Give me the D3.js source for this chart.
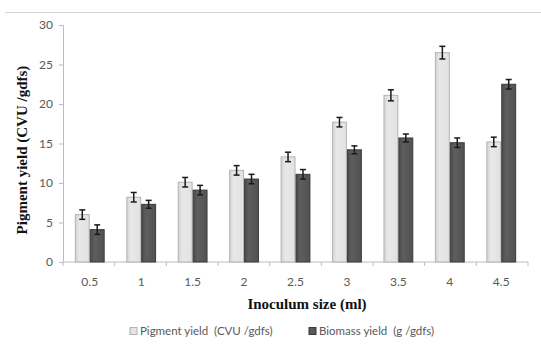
<!DOCTYPE html>
<html>
<head>
    <meta charset="utf-8" />
    <title>Inoculum size</title>
    <script src="https://cdn.jsdelivr.net/npm/d3@7"></script>
    <style>
        body { margin: 0; background: #fff; }
        .tick text { fill: #595959; font-family: Lato, "Open Sans", sans-serif; font-size: 12px; }
    </style>
</head>
<body>
<script>
    var categories = ["0.5", "1", "1.5", "2", "2.5", "3", "3.5", "4", "4.5"];
    var pigment = [6.0, 8.2, 10.1, 11.6, 13.3, 17.7, 21.1, 26.5, 15.2];
    var pigmentErr = [0.6, 0.6, 0.6, 0.6, 0.6, 0.6, 0.7, 0.8, 0.6];
    var biomass = [4.1, 7.3, 9.1, 10.5, 11.1, 14.2, 15.7, 15.1, 22.5];
    var biomassErr = [0.6, 0.5, 0.6, 0.6, 0.6, 0.5, 0.5, 0.6, 0.6];
    var yTicks = [0, 5, 10, 15, 20, 25, 30];
    var seriesNames = ["Pigment yield  (CVU /gdfs)", "Biomass yield  (g /gdfs)"];

    var width = 541, height = 349;
    var margin = {top: 25, right: 13, bottom: 87, left: 63};

    var svg = d3.select("body").append("svg")
        .attr("width", width)
        .attr("height", height);

    var defs = svg.append("defs");
    var g1 = defs.append("linearGradient").attr("id", "gLight");
    g1.append("stop").attr("offset", "0%").attr("stop-color", "#d2d2d2");
    g1.append("stop").attr("offset", "30%").attr("stop-color", "#e8e8e8");
    g1.append("stop").attr("offset", "100%").attr("stop-color", "#e2e2e2");
    var g2 = defs.append("linearGradient").attr("id", "gDark");
    g2.append("stop").attr("offset", "0%").attr("stop-color", "#4a4a4a");
    g2.append("stop").attr("offset", "30%").attr("stop-color", "#5e5e5e");
    g2.append("stop").attr("offset", "100%").attr("stop-color", "#515151");

    // thin rule along the top
    svg.append("line")
        .attr("x1", 5).attr("x2", width)
        .attr("y1", 12.5).attr("y2", 12.5)
        .attr("stroke", "#d4d4d4");

    var x = d3.scaleBand()
        .domain(categories)
        .range([margin.left, width - margin.right])
        .paddingInner(0.42)
        .paddingOuter(0.23);

    var xs = d3.scaleBand()
        .domain([0, 1])
        .range([0, x.bandwidth()]);

    var y = d3.scaleLinear()
        .domain([0, 30])
        .range([height - margin.bottom, margin.top]);

    // y axis
    var yAxis = svg.append("g")
        .attr("transform", "translate(" + margin.left + ",0)")
        .call(d3.axisLeft(y).tickValues(yTicks).tickSize(4).tickPadding(6));
    yAxis.select(".domain").attr("stroke", "#bcbcbc");
    yAxis.selectAll(".tick line").attr("stroke", "#bcbcbc");

    // x axis: ticks between categories
    var xAxisG = svg.append("g")
        .attr("transform", "translate(0," + y(0) + ")");
    xAxisG.append("line")
        .attr("x1", margin.left).attr("x2", width - margin.right)
        .attr("stroke", "#bcbcbc");
    var bounds = d3.range(categories.length + 1).map(function (i) {
        return margin.left + i * (width - margin.right - margin.left) / categories.length;
    });
    xAxisG.selectAll("line.sep").data(bounds).enter().append("line")
        .attr("class", "sep")
        .attr("x1", function (d) { return d; }).attr("x2", function (d) { return d; })
        .attr("y1", 0).attr("y2", 4)
        .attr("stroke", "#bcbcbc");
    xAxisG.selectAll("text").data(categories).enter().append("text")
        .attr("x", function (d) { return x(d) + x.bandwidth() / 2; })
        .attr("y", 24)
        .attr("text-anchor", "middle")
        .attr("fill", "#595959")
        .style("font-family", "Lato, 'Open Sans', sans-serif")
        .style("font-size", "12px")
        .text(function (d) { return d; });

    var series = [
        {vals: pigment, err: pigmentErr, fill: "url(#gLight)", stroke: "#b4b4b4"},
        {vals: biomass, err: biomassErr, fill: "url(#gDark)", stroke: "#3c3c3c"}
    ];

    series.forEach(function (s, si) {
        var grp = svg.append("g");
        grp.selectAll("rect").data(categories).enter().append("rect")
            .attr("x", function (d) { return x(d) + xs(si) + 0.5; })
            .attr("y", function (d, i) { return y(s.vals[i]); })
            .attr("width", xs.bandwidth() - 1)
            .attr("height", function (d, i) { return y(0) - y(s.vals[i]); })
            .attr("fill", s.fill)
            .attr("stroke", s.stroke)
            .attr("stroke-width", 1);

        var eb = svg.append("g").attr("stroke", "#1a1a1a").attr("stroke-width", 1.5);
        categories.forEach(function (d, i) {
            var cx = x(d) + xs(si) + xs.bandwidth() / 2;
            var y1 = y(s.vals[i] + s.err[i]), y2 = y(s.vals[i] - s.err[i]);
            eb.append("line").attr("x1", cx).attr("x2", cx).attr("y1", y1).attr("y2", y2);
            eb.append("line").attr("x1", cx - 3).attr("x2", cx + 3).attr("y1", y1).attr("y2", y1);
            eb.append("line").attr("x1", cx - 3).attr("x2", cx + 3).attr("y1", y2).attr("y2", y2);
        });
    });

    // axis titles
    svg.append("text")
        .attr("x", 307).attr("y", 309)
        .attr("text-anchor", "middle")
        .style("font-family", "'Liberation Serif', 'Times New Roman', serif")
        .style("font-weight", "bold")
        .style("font-size", "15px")
        .attr("fill", "#111")
        .text("Inoculum size (ml)");

    svg.append("text")
        .attr("transform", "translate(27,150) rotate(-90)")
        .attr("text-anchor", "middle")
        .style("font-family", "'Liberation Serif', 'Times New Roman', serif")
        .style("font-weight", "bold")
        .style("font-size", "15px")
        .attr("fill", "#111")
        .text("Pigment yield (CVU /gdfs)");

    // legend
    var legend = svg.append("g").attr("transform", "translate(0,335)");
    var legendX = [130, 309];
    seriesNames.forEach(function (n, i) {
        legend.append("rect")
            .attr("x", legendX[i]).attr("y", -7.5)
            .attr("width", 7).attr("height", 7)
            .attr("fill", series[i].fill)
            .attr("stroke", series[i].stroke);
        legend.append("text")
            .attr("x", legendX[i] + 10).attr("y", 0)
            .attr("fill", "#595959")
            .style("font-family", "Lato, 'Open Sans', sans-serif")
            .style("font-size", "11.5px")
            .style("white-space", "pre")
            .text(n);
    });
</script>
</body>
</html>
